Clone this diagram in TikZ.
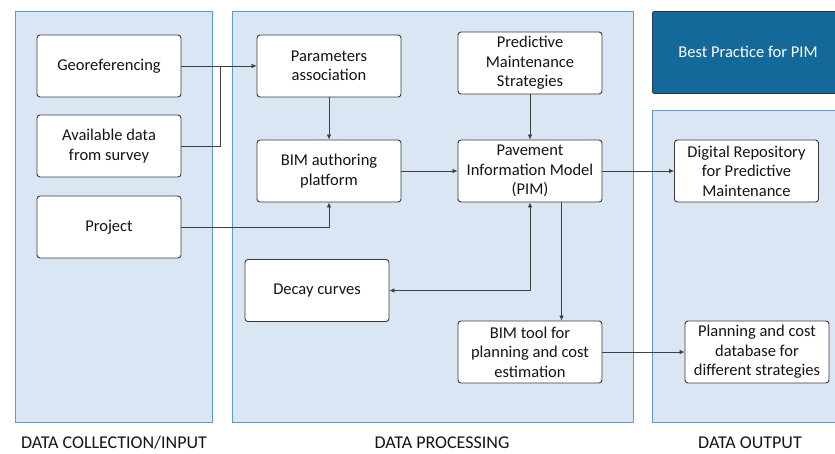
\documentclass[tikz,border=0pt]{standalone}
\usepackage{fontspec}
\setmainfont{Carlito}
\usetikzlibrary{arrows.meta}
\definecolor{panelfill}{HTML}{DAE6F4}
\definecolor{panelline}{HTML}{5B9BD5}
\definecolor{darkfill}{HTML}{13699A}
\definecolor{darkline}{HTML}{22384A}
\definecolor{boxline}{HTML}{3A3A3A}
\definecolor{conn}{HTML}{404040}
\tikzset{
  panel/.style={draw=panelline, fill=panelfill, line width=0.8pt},
  stepbox/.style={draw=boxline, fill=white, rounded corners=3pt, line width=0.9pt,
    minimum width=144pt, minimum height=62pt, inner sep=0pt, align=center,
    font=\fontsize{16.5}{19.5}\selectfont, text=black!92},
  arr/.style={draw=conn, line width=0.7pt, -{Latex[length=5pt,width=4.5pt]}},
  arrboth/.style={draw=conn, line width=0.7pt, {Latex[length=5pt,width=4.5pt]}-{Latex[length=5pt,width=4.5pt]}},
  plain/.style={draw=conn, line width=0.7pt},
  paneltitle/.style={font=\fontsize{18}{20}\selectfont, text=black!92}
}
\begin{document}
\begin{tikzpicture}[x=1pt,y=-1pt]
\useasboundingbox (0,0) rectangle (835,453);
\clip (0,0) rectangle (835,453);
% panels
\path[panel] (15,11) rectangle (212,422);
\path[panel] (232,11) rectangle (633,422);
\path[panel] (652,110) rectangle (850,422);
\node[draw=darkline, fill=darkfill, rounded corners=2pt, line width=0.9pt, minimum width=200pt, minimum height=82pt, anchor=north west, inner sep=0pt] (best) at (652,11) {};
\node[text=white, font=\fontsize{16.5}{19.5}\selectfont] (besttext) at (748,52) {Best Practice for PIM};
% boxes
\node[stepbox] (geo) at (109,66) {Georeferencing};
\node[stepbox] (avail) at (109,146) {Available data\\from survey};
\node[stepbox] (project) at (109,227) {Project};
\node[stepbox] (param) at (329,66) {Parameters\\association};
\node[stepbox] (bimauth) at (329,171) {BIM authoring\\platform};
\node[stepbox] (pred) at (530,63) {Predictive\\Maintenance\\Strategies};
\node[stepbox] (pim) at (530,171) {Pavement\\Information Model\\(PIM)};
\node[stepbox] (decay) at (317,290.5) {Decay curves};
\node[stepbox] (bimtool) at (530,352) {BIM tool for\\planning and cost\\estimation};
\node[stepbox] (repo) at (746.5,171) {Digital Repository\\for Predictive\\Maintenance};
\node[stepbox] (plan) at (757,352) {Planning and cost\\database for\\different strategies};
% connectors
\coordinate (join) at (220,66);
\draw[arr] (geo.east) -- (param.west);
\draw[plain] (avail.east) -| (join);
\draw[arr] (project.east) -| (bimauth.south);
\draw[arr] (param.south) -- (bimauth.north);
\draw[arr] (bimauth.east) -- (pim.west);
\draw[arr] (pred.south) -- (pim.north);
\draw[arr] (pim.east) -- (repo.west);
\draw[arrboth] (decay.east) -| (pim.south);
\draw[arr] ([xshift=31.5pt]pim.south) -- ([xshift=31.5pt]bimtool.north);
\draw[arr] (bimtool.east) -- (plan.west);
% panel titles
\node[paneltitle] (t1) at (114,443) {DATA COLLECTION/INPUT};
\node[paneltitle] (t2) at (442,443) {DATA PROCESSING};
\node[paneltitle] (t3) at (750,443) {DATA OUTPUT};
\end{tikzpicture}
\end{document}
